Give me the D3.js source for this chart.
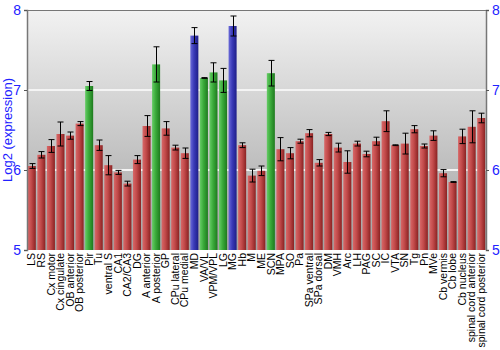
<!DOCTYPE html>
<html><head><meta charset="utf-8">
<script src="https://cdn.jsdelivr.net/npm/d3@7"></script>
<style>body{margin:0;background:#fff;}svg{display:block;font-family:"Liberation Sans",Arial,sans-serif;}</style>
</head><body><svg id="c" width="500" height="350"></svg>
<script>
const categories = ["LS","RS","Cx motor","Cx cingulate","OB anterior","OB posterior","Pir","Tu","ventral S","CA1","CA2/CA3","DG","A anterior","A posterior","GP","CPu lateral","CPu medial","MD","VA/VL","VPM/VPL","LG","MG","Hb","M","ME","SCN","MPA","SO","Pa","SPa ventral","SPa dorsal","DM","VMH","Arc","LH","PAG","SC","IC","VTA","SN","Tg","Pn","MVe","Cb vermis","Cb lobe","Cb nucleus","spinal cord anterior","spinal cord posterior"];
const values = [6.05,6.19,6.30,6.45,6.43,6.58,7.05,6.31,6.06,5.97,5.83,6.13,6.55,7.32,6.52,6.28,6.21,7.68,7.15,7.22,7.12,7.80,6.31,5.93,5.99,7.21,6.26,6.21,6.36,6.46,6.09,6.45,6.28,6.10,6.33,6.20,6.36,6.61,6.31,6.33,6.51,6.30,6.43,5.96,5.85,6.42,6.54,6.65];
const errors = [0.03,0.04,0.08,0.15,0.045,0.025,0.056,0.065,0.12,0.025,0.03,0.05,0.13,0.22,0.085,0.03,0.065,0.1,0.005,0.12,0.15,0.125,0.03,0.08,0.06,0.16,0.145,0.07,0.025,0.045,0.04,0.02,0.055,0.14,0.03,0.035,0.05,0.13,0.005,0.13,0.045,0.025,0.06,0.045,0.005,0.09,0.2,0.06];
const groups = ["r","r","r","r","r","r","g","r","r","r","r","r","r","g","r","r","r","b","g","g","g","b","r","r","r","g","r","r","r","r","r","r","r","r","r","r","r","r","r","r","r","r","r","r","r","r","r","r"];
const yTicks = [5,6,7,8];
const yTitle = "Log2 (expression)";

const svg = d3.select("#c");
const L = 27, R = 486, T = 10, B = 250;
const x = d3.scaleBand().domain(categories).range([L, R]).paddingInner(0.16).paddingOuter(0.08);
const y = d3.scaleLinear().domain([5, 8]).range([B, T]);

const defs = svg.append("defs");
const bg = defs.append("linearGradient").attr("id","bg").attr("x1",0).attr("y1",0).attr("x2",0).attr("y2",1);
bg.append("stop").attr("offset","0%").attr("stop-color","#f2f2f2");
bg.append("stop").attr("offset","100%").attr("stop-color","#a2a2a2");
const pal = {r:["#d86868","#c24a4a","#8a2222"], g:["#66cc66","#3aaa3a","#1e7a1e"], b:["#6a6ad8","#3a3ab8","#1e1e88"]};
Object.entries(pal).forEach(([k,c])=>{
  const g = defs.append("linearGradient").attr("id","g"+k).attr("x1",0).attr("y1",0).attr("x2",1).attr("y2",0);
  g.append("stop").attr("offset","0%").attr("stop-color",c[0]);
  g.append("stop").attr("offset","45%").attr("stop-color",c[1]);
  g.append("stop").attr("offset","100%").attr("stop-color",c[2]);
});

svg.append("rect").attr("x",L).attr("y",T).attr("width",R-L).attr("height",B-T).attr("fill","url(#bg)");

svg.append("g").selectAll("line").data([6,7]).join("line")
  .attr("x1",L).attr("x2",R).attr("y1",d=>y(d)).attr("y2",d=>y(d))
  .attr("stroke","#f4f4f4").attr("stroke-width",2);

svg.append("g").selectAll("rect").data(categories).join("rect")
  .attr("x",d=>x(d)).attr("width",x.bandwidth())
  .attr("y",(d,i)=>y(values[i])).attr("height",(d,i)=>B-y(values[i]))
  .attr("fill",(d,i)=>"url(#g"+groups[i]+")");

const eb = svg.append("g").attr("stroke","#000").attr("stroke-width",1);
categories.forEach((c,i)=>{
  const cx = Math.round(x(c)+x.bandwidth()/2)+0.5;
  const y1 = y(values[i]+errors[i]), y2 = y(values[i]-errors[i]);
  eb.append("line").attr("x1",cx).attr("x2",cx).attr("y1",y1).attr("y2",y2);
  eb.append("line").attr("x1",cx-3).attr("x2",cx+3).attr("y1",y1).attr("y2",y1);
  eb.append("line").attr("x1",cx-3).attr("x2",cx+3).attr("y1",y2).attr("y2",y2);
});

svg.append("line").attr("x1",L).attr("x2",R).attr("y1",T+0.5).attr("y2",T+0.5).attr("stroke","#777");
const la = svg.append("g").attr("transform",`translate(${L},0)`)
  .call(d3.axisLeft(y).tickValues(yTicks).tickSize(3).tickFormat(d3.format("d")));
const ra = svg.append("g").attr("transform",`translate(${R},0)`)
  .call(d3.axisRight(y).tickValues(yTicks).tickSize(3).tickFormat(d3.format("d")));
[la,ra].forEach(a=>{
  a.select(".domain").attr("stroke","#777").attr("stroke-width",1.5);
  a.selectAll(".tick line").attr("stroke","#555");
  a.selectAll(".tick text").attr("fill","#2222ff").attr("font-size",14).attr("font-family","Liberation Sans, Arial, sans-serif");
});

svg.append("text").attr("transform",`translate(12,${(T+B)/2}) rotate(-90)`)
  .attr("text-anchor","middle").attr("fill","#2222ff").attr("font-size",13).text(yTitle);

svg.append("g").selectAll("text").data(categories).join("text")
  .attr("transform",d=>`translate(${x(d)+x.bandwidth()/2},${B+3}) rotate(-90)`)
  .attr("text-anchor","end").attr("dy","0.35em").attr("font-size",10.5).attr("fill","#000").text(d=>d);
</script></body></html>
